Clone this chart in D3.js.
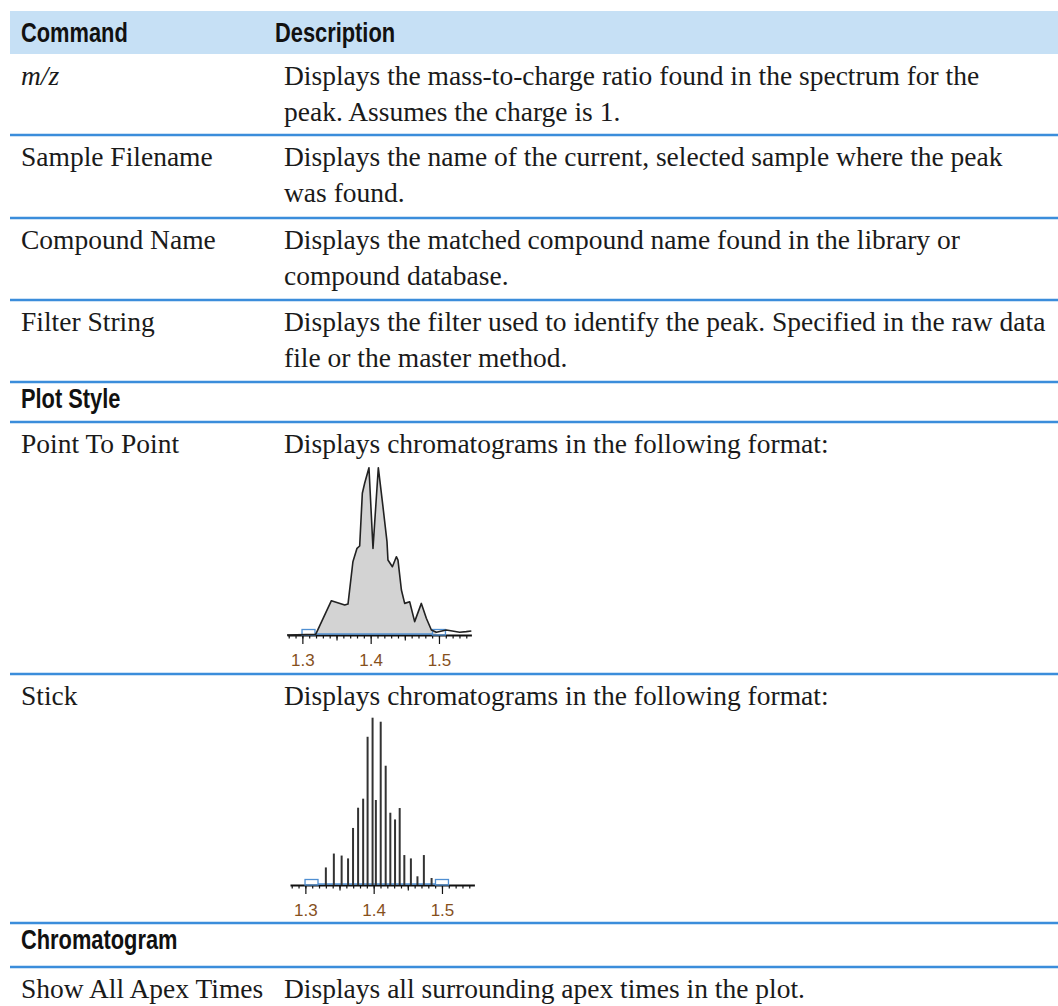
<!DOCTYPE html>
<html>
<head>
<meta charset="utf-8">
<script src="https://cdn.jsdelivr.net/npm/d3@7"></script>
<style>
  html, body { margin: 0; padding: 0; background: #fff; }
  svg { display: block; }
  .hdr { font-family: "Liberation Sans", Arial, sans-serif; font-weight: bold; font-size: 28px; fill: #111; }
  .body { font-family: "Liberation Serif", "Times New Roman", serif; font-size: 27.5px; fill: #1a1a1a; }
  .tick text { font-family: "Liberation Sans", Arial, sans-serif; font-size: 17px; fill: #86501c; }
</style>
</head>
<body>
<svg id="chart" width="1058" height="1006"></svg>
<script>
// ---------- table content ----------
const headers = ["Command", "Description"];
const commands = ["m/z", "Sample Filename", "Compound Name", "Filter String", "Plot Style", "Point To Point", "Stick", "Chromatogram", "Show All Apex Times"];
const rowKinds = ["row", "row", "row", "row", "section", "row", "row", "section", "row"];
const descriptions = [
  ["Displays the mass-to-charge ratio found in the spectrum for the", "peak. Assumes the charge is 1."],
  ["Displays the name of the current, selected sample where the peak", "was found."],
  ["Displays the matched compound name found in the library or", "compound database."],
  ["Displays the filter used to identify the peak. Specified in the raw data", "file or the master method."],
  [],
  ["Displays chromatograms in the following format:"],
  ["Displays chromatograms in the following format:"],
  [],
  ["Displays all surrounding apex times in the plot."]
];

// ---------- chart data (retention time in min, relative intensity %) ----------
const pointTimes = [1.2775, 1.3195, 1.3425, 1.3620, 1.3668, 1.3740, 1.3800, 1.3839, 1.3878, 1.3912, 1.3975, 1.4034, 1.4112, 1.4180, 1.4239, 1.4253, 1.4318, 1.4376, 1.4400, 1.4450, 1.4498, 1.4571, 1.4644, 1.4742, 1.4815, 1.4889, 1.4962, 1.5108, 1.5303, 1.5400, 1.5474];
const pointIntensities = [0, 0.4, 20.5, 17.9, 18.5, 43.8, 51.8, 53.2, 84.7, 90.7, 100, 51.8, 100, 76.7, 55.8, 44.8, 40.8, 46.8, 44.8, 26.9, 18.9, 19.9, 8.0, 18.9, 10.0, 3.0, 1.6, 3.0, 1.6, 2.0, 2.4];
const peakFill = [1.3195, 1.4962];

const stickTimes = [1.3300, 1.3417, 1.3531, 1.3625, 1.3698, 1.3772, 1.3846, 1.3911, 1.3984, 1.4032, 1.4103, 1.4176, 1.4244, 1.4313, 1.4381, 1.4449, 1.4545, 1.4641, 1.4735, 1.4848];
const stickIntensities = [10.5, 18.8, 17.6, 15.9, 34.1, 46.2, 51.6, 88.6, 100, 50.8, 97.6, 71.3, 43.2, 39.2, 46.0, 17.9, 15.9, 5.2, 17.9, 4.2];

const peakStartMarker = [1.2995, 1.3185];
const peakEndMarker = [1.4905, 1.5095];

const timeDomain = [1.2775, 1.5475];
const majorTicks = [1.3, 1.4, 1.5];
const mediumTicks = [1.35, 1.45];
const minorTicks = d3.range(128, 155).map(i => i / 100);

// ---------- layout ----------
const W = 1058;
const tableLeft = 10, col1X = 21, col2HdrX = 275, col2X = 284;
const headerTop = 11, headerBottom = 54;
const rowBottoms = [135, 218, 300, 382, 422, 674, 923, 967, 1040];
const lineH = 36;
const blue = "#3b8ddb";
const hdrScale = 0.78;

const svg = d3.select("#chart");

function hdrText(x, y, s) {
  svg.append("g").attr("transform", `translate(${x},${y}) scale(${hdrScale},1)`)
    .append("text").attr("class", "hdr").attr("x", 0).attr("y", 0).text(s);
}

// header band
svg.append("rect").attr("x", tableLeft).attr("y", headerTop)
  .attr("width", W - tableLeft).attr("height", headerBottom - headerTop)
  .attr("fill", "#c6e0f5");
hdrText(col1X, 41.5, headers[0]);
hdrText(col2HdrX, 41.5, headers[1]);

const rowTops = [headerBottom].concat(rowBottoms.slice(0, -1));

commands.forEach((cmd, i) => {
  const top = rowTops[i];
  if (rowKinds[i] === "section") {
    hdrText(col1X, top + 26, cmd);
  } else {
    const t = svg.append("text").attr("class", "body").attr("x", col1X).attr("y", top + 30.5).text(cmd);
    if (i === 0) t.attr("font-style", "italic");
    descriptions[i].forEach((line, k) => {
      svg.append("text").attr("class", "body").attr("x", col2X).attr("y", top + 30.5 + k * lineH).text(line);
    });
  }
  if (i < rowBottoms.length - 1) {
    svg.append("line").attr("x1", tableLeft).attr("x2", W)
      .attr("y1", rowBottoms[i]).attr("y2", rowBottoms[i])
      .attr("stroke", blue).attr("stroke-width", 2.6);
  }
});

// ---------- chromatogram helper ----------
function drawAxisAndMarkers(g, x, y, axisY) {
  const axMinor = d3.axisBottom(x).tickValues(minorTicks).tickSize(3.5).tickSizeOuter(0).tickFormat("");
  const axMed = d3.axisBottom(x).tickValues(mediumTicks).tickSize(5.5).tickSizeOuter(0).tickFormat("");
  const axMajor = d3.axisBottom(x).tickValues(majorTicks).tickSize(9).tickSizeOuter(0).tickPadding(10).tickFormat(d3.format(".1f"));
  [axMinor, axMed, axMajor].forEach((ax, idx) => {
    const a = g.append("g").attr("transform", `translate(0,${axisY})`).call(ax);
    a.selectAll(".tick line").attr("stroke", "#111").attr("stroke-width", 1.2);
    if (idx === 0) a.select(".domain").attr("stroke", "#111").attr("stroke-width", 2);
    else a.select(".domain").remove();
  });
  // peak baseline and start/end markers
  g.append("line").attr("x1", x(peakStartMarker[1])).attr("x2", x(peakEndMarker[0]))
    .attr("y1", axisY - 1).attr("y2", axisY - 1).attr("stroke", "#4f8fd2").attr("stroke-width", 1.3);
  [peakStartMarker, peakEndMarker].forEach(m => {
    g.append("rect").attr("x", x(m[0])).attr("y", axisY - 5.5)
      .attr("width", x(m[1]) - x(m[0])).attr("height", 5.5)
      .attr("fill", "none").attr("stroke", "#4f8fd2").attr("stroke-width", 1.3);
  });
}

// Point To Point chart
(function () {
  const axisY = 635;
  const x = d3.scaleLinear().domain(timeDomain).range([287, 287 + (timeDomain[1] - timeDomain[0]) * 683]);
  const y = d3.scaleLinear().domain([0, 100]).range([axisY, axisY - 167.3]);
  const g = svg.append("g");
  const pts = pointTimes.map((t, i) => ({ t, v: pointIntensities[i] }));
  const inPeak = pts.filter(p => p.t >= peakFill[0] && p.t <= peakFill[1]);
  g.append("path").datum(inPeak)
    .attr("d", d3.area().x(d => x(d.t)).y0(y(0)).y1(d => y(d.v)))
    .attr("fill", "#d3d3d3");
  drawAxisAndMarkers(g, x, y, axisY);
  g.append("path").datum(pts)
    .attr("d", d3.line().x(d => x(d.t)).y(d => y(d.v)))
    .attr("fill", "none").attr("stroke", "#222").attr("stroke-width", 1.6).attr("stroke-linejoin", "round");
})();

// Stick chart
(function () {
  const axisY = 885;
  const x0 = 290;
  const x = d3.scaleLinear().domain(timeDomain).range([x0, x0 + (timeDomain[1] - timeDomain[0]) * 683]);
  const y = d3.scaleLinear().domain([0, 100]).range([axisY, axisY - 167.3]);
  const g = svg.append("g");
  drawAxisAndMarkers(g, x, y, axisY);
  g.selectAll("line.stick").data(stickTimes).enter().append("line")
    .attr("class", "stick")
    .attr("x1", d => x(d)).attr("x2", d => x(d))
    .attr("y1", y(0)).attr("y2", (d, i) => y(stickIntensities[i]))
    .attr("stroke", "#333").attr("stroke-width", 2);
})();
</script>
</body>
</html>
